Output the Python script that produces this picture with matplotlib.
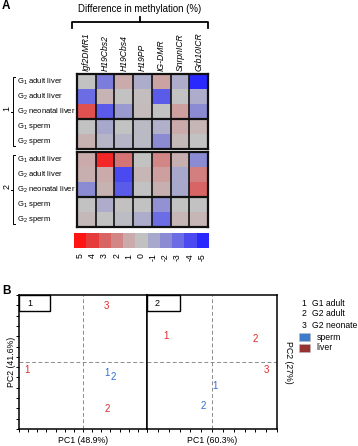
import numpy as np
import matplotlib
matplotlib.use("Agg")
import matplotlib.pyplot as plt
from matplotlib import font_manager
from matplotlib.colors import LinearSegmentedColormap
from matplotlib.patches import Rectangle

names = {f.name for f in font_manager.fontManager.ttflist}
BASE = 'Liberation Sans' if 'Liberation Sans' in names else 'DejaVu Sans'
NARROW = 'Liberation Sans Narrow' if 'Liberation Sans Narrow' in names else BASE
plt.rcParams['font.family'] = [BASE, 'DejaVu Sans']
plt.rcParams['mathtext.fontset'] = 'custom'
plt.rcParams['mathtext.rm'] = NARROW
plt.rcParams['mathtext.it'] = NARROW + ':italic'

# ---------------- data ----------------
regions = ['Igf2DMR1', 'H19Cbs2', 'H19Cbs4', 'H19PP', 'IG-DMR', 'SnrpnICR', 'Grb10ICR']
samples = ['G$_1$ adult liver', 'G$_2$ adult liver', 'G$_2$ neonatal liver', 'G$_1$ sperm', 'G$_2$ sperm']
groups = ['1', '2']
block1 = [
    [0.0, -2.5, 1.0, -0.8, 1.2, -0.8, -5.0],
    [-3.0, 0.6, 0.0, 0.2, -3.5, 0.0, -0.8],
    [3.5, -3.5, -1.5, 0.3, 0.0, 1.3, -2.0],
    [0.0, -1.0, 0.0, -0.3, -0.7, 1.0, 0.5],
    [0.7, -0.5, -0.5, -0.3, -2.0, 0.4, 0.0],
]
block2 = [
    [1.0, 4.5, 2.5, 0.0, 2.0, 0.8, -2.0],
    [0.8, 1.0, -4.0, 0.5, 1.3, -1.0, 2.2],
    [-2.0, 0.7, -3.5, 0.0, 0.8, -1.0, 3.0],
    [0.0, -0.8, 0.1, 0.0, -1.8, 0.0, 0.0],
    [0.4, 0.0, -0.2, -0.8, -3.0, 0.5, 0.5],
]
scale_values = [5, 4, 3, 2, 1, 0, -1, -2, -3, -4, -5]

pc_numbers = ['1', '2', '3', '1', '2']
pc_tissue = ['liver', 'liver', 'liver', 'sperm', 'sperm']
pca1_x = [-0.875, 0.38, 0.36, 0.38, 0.47]
pca1_y = [-0.12, -0.70, 0.84, -0.16, -0.22]
pca2_x = [-0.70, 0.67, 0.84, 0.05, -0.13]
pca2_y = [0.39, 0.35, -0.12, -0.36, -0.66]
pca_titles = ['1', '2']
pc1_labels = ['PC1 (48.9%)', 'PC1 (60.3%)']
pc2_labels = ['PC2 (41.6%)', 'PC2 (27%)']
legend_nums = ['1', '2', '3']
legend_names = ['G1 adult', 'G2 adult', 'G2 neonate']
tissues = ['sperm', 'liver']

# ---------------- styling ----------------
W, H = 358, 446
fig = plt.figure(figsize=(W / 100, H / 100), dpi=100)
fig.patch.set_facecolor('white')

def add_ax(x0, y0, x1, y1):
    return fig.add_axes([x0 / W, 1 - y1 / H, (x1 - x0) / W, (y1 - y0) / H])

cols = [(40, 40, 255), (75, 75, 240), (108, 108, 228), (140, 140, 212), (168, 168, 205),
        (194, 194, 194), (202, 170, 170), (210, 135, 135), (216, 100, 100), (230, 60, 60), (255, 20, 20)]
cmap = LinearSegmentedColormap.from_list('meth', [tuple(c / 255 for c in col) for col in cols])

text_red = '#dd2a2a'
text_blue = '#2f6fd6'
tissue_text = {'liver': text_red, 'sperm': text_blue}
tissue_patch = {'sperm': '#3d7cc9', 'liver': '#963232'}

# overlay axes in pixel coordinates for annotations
ov = fig.add_axes([0, 0, 1, 1], zorder=5)
ov.set_xlim(0, W)
ov.set_ylim(H, 0)
ov.axis('off')
ov.patch.set_alpha(0)

# ---------------- panel A heatmap ----------------
blocks = [block1, block2]
block_y = [(74, 149), (152, 227)]
for bi, (blk, (y0, y1)) in enumerate(zip(blocks, block_y)):
    ax = add_ax(77, y0, 208, y1)
    data = np.array(blk)
    ax.pcolormesh(np.arange(len(regions) + 1), np.arange(len(samples) + 1), data,
                  cmap=cmap, vmin=-5, vmax=5, shading='flat')
    ax.set_xlim(0, len(regions))
    ax.set_ylim(len(samples), 0)
    for c in range(1, len(regions)):
        ax.axvline(c, color='#111111', lw=1.2)
    ax.axhline(3, color='#111111', lw=1.6)
    for s in ax.spines.values():
        s.set_linewidth(1.6)
        s.set_color('#111111')
    ax.set_yticks([])
    if bi == 0:
        ax.xaxis.tick_top()
        ax.set_xticks(np.arange(len(regions)) + 0.5)
        ax.set_xticklabels(regions, rotation=90, fontstyle='italic', fontsize=6.2,
                           family=[NARROW, 'DejaVu Sans'])
        ax.tick_params(axis='x', length=0, pad=2.5)
    else:
        ax.set_xticks([])
    tr = ax.get_yaxis_transform()
    for r, lab in enumerate(samples):
        ax.text(-0.458, r + 0.5, lab, transform=tr, ha='left', va='center',
                fontsize=5.5, family=[NARROW, 'DejaVu Sans'])
    # group bracket
    ov.plot([15, 12.5, 12.5, 15], [y0 + 3, y0 + 3, y1 - 3, y1 - 3], color='black', lw=0.7)
    ov.plot([12.5, 10.5], [(y0 + y1) / 2, (y0 + y1) / 2], color='black', lw=0.7)
    ov.text(7, (y0 + y1) / 2 - 3, groups[bi], rotation=90, ha='center', va='center', fontsize=6.5)

# column bracket and title
ov.plot([72, 72, 208, 208], [28, 22, 22, 28], color='black', lw=1.3)
ov.plot([139.5, 139.5], [22, 16.5], color='black', lw=1.3)
ov.text(140, 9.5, 'Difference in methylation (%)', ha='center', va='center', fontsize=6.9)

# colour scale
axc = add_ax(74, 233, 208, 248)
axc.imshow(np.array(scale_values)[None, :], cmap=cmap, vmin=-5, vmax=5, aspect='auto')
for s in axc.spines.values():
    s.set_visible(False)
axc.set_yticks([])
axc.set_xticks(np.arange(len(scale_values)))
axc.set_xticklabels([str(v) for v in scale_values], rotation=90, fontsize=6.3)
axc.tick_params(axis='x', length=0, pad=4)

ov.text(2, 6, 'A', fontsize=8.5, fontweight='bold', ha='left', va='center')
ov.text(2.5, 291, 'B', fontsize=8.5, fontweight='bold', ha='left', va='center')

# ---------------- panel B PCA ----------------
pca_axes_px = [(19, 147), (147, 277)]
pca_data = [(pca1_x, pca1_y), (pca2_x, pca2_y)]
nticks = [15, 13]
for i, ((x0, x1), (xs, ys)) in enumerate(zip(pca_axes_px, pca_data)):
    ax = add_ax(x0, 295, x1, 429)
    ax.set_xlim(-1, 1)
    ax.set_ylim(-1, 1)
    ax.axhline(0, color='#8c8c8c', lw=0.7, ls=(0, (4, 2.5)))
    ax.axvline(0, color='#8c8c8c', lw=0.7, ls=(0, (4, 2.5)))
    for n, t, xv, yv in zip(pc_numbers, pc_tissue, xs, ys):
        ax.text(xv, yv, n, color=tissue_text[t], fontsize=7, ha='center', va='center')
    for s in ax.spines.values():
        s.set_linewidth(1.1)
    ax.set_xticks(np.linspace(-1, 1, nticks[i]))
    ax.set_xticklabels([])
    ax.tick_params(axis='x', direction='out', length=2.3, width=0.7)
    ax.set_xlabel(pc1_labels[i], fontsize=6.3, va='center')
    ax.xaxis.set_label_coords(0.5, -0.087)
    if i == 0:
        ax.set_yticks(np.linspace(-1, 1, 14))
        ax.set_yticklabels([])
        ax.tick_params(axis='y', direction='out', length=2.3, width=0.7)
        ax.set_ylabel(pc2_labels[i], fontsize=6.3, va='center')
        ax.yaxis.set_label_coords(-0.057, 0.5)
    else:
        ax.set_yticks([])
        ax.yaxis.set_label_position('right')
        ax.set_ylabel(pc2_labels[i], fontsize=6.3, rotation=270, va='center')
        ax.yaxis.set_label_coords(1.085, 0.5)
    bw = 31 / (x1 - x0) if i == 0 else 33 / (x1 - x0)
    ax.add_patch(Rectangle((0, 1 - 16 / 134), bw, 16 / 134, transform=ax.transAxes,
                           facecolor='white', edgecolor='black', lw=1.0, zorder=4, clip_on=False))
    ax.text(8 / (x1 - x0), 1 - 8 / 134, pca_titles[i], transform=ax.transAxes,
            fontsize=6.5, ha='left', va='center', zorder=5)

# legend
for k, (num, name) in enumerate(zip(legend_nums, legend_names)):
    y = 303 + 11 * k
    ov.text(301.5, y, num, fontsize=6.2, ha='left', va='center')
    ov.text(311.5, y, name, fontsize=6.2, ha='left', va='center')
for k, t in enumerate(tissues):
    y = 333 + 10.5 * k
    ov.add_patch(Rectangle((299, y), 11, 8, facecolor=tissue_patch[t], edgecolor='#bbbbbb', lw=0.4))
    ov.text(316.5, y + 4, t, fontsize=6.2, ha='left', va='center')

fig.savefig('out.png', dpi=100, facecolor='white')
